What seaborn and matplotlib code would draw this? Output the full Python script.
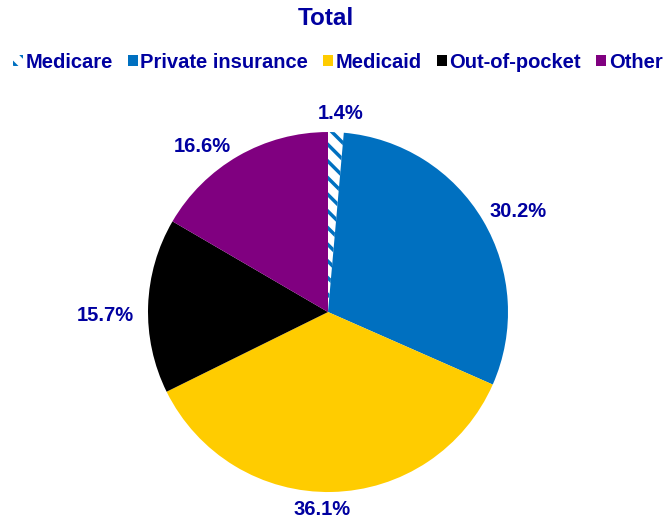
import numpy as np
import matplotlib
matplotlib.use("Agg")
import matplotlib.pyplot as plt
import seaborn as sns

categorias = ["Medicare", "Private insurance", "Medicaid", "Out-of-pocket", "Other"]
valores = [1.4, 30.2, 36.1, 15.7, 16.6]
colores = ["#FFFFFF", "#0070C0", "#FFCC00", "#000000", "#800080"]
texto = "#0000A0"

# ajuste de las etiquetas (grados respecto al centro del sector, radio relativo)
giro_etiqueta = [-1.2, -2.8, -3.0, 3.0, 7.2]
radio_etiqueta = [1.105, 1.193, 1.10, 1.239, 1.156]

sns.set_theme(style="white")
plt.rcParams["font.family"] = ["Liberation Sans", "DejaVu Sans"]
plt.rcParams["hatch.linewidth"] = 2.5

fig = plt.figure(figsize=(6.7, 5.2), dpi=100)
ax = fig.add_axes([0.2209, 0.0538, 0.5373, 0.6923])

wedges, _ = ax.pie(valores, colors=colores, startangle=90, counterclock=False,
                   radius=1, wedgeprops=dict(linewidth=0))
wedges[0].set_hatch("\\\\")
wedges[0].set_edgecolor("#0070C0")
ax.set_xlim(-1, 1)
ax.set_ylim(-1, 1)
ax.set_aspect("equal")

for w, v, g, r in zip(wedges, valores, giro_etiqueta, radio_etiqueta):
    ang = np.deg2rad((w.theta1 + w.theta2) / 2 + g)
    ax.text(r * np.cos(ang), r * np.sin(ang), f"{v:.1f}%", ha="center", va="center",
            fontsize=14.5, fontweight="bold", color=texto)

fig.text(0.486, 0.965, "Total", ha="center", va="center", fontsize=17.5,
         fontweight="bold", color=texto)

leg = fig.legend(wedges, categorias, loc="center", bbox_to_anchor=(0.504, 0.88), ncol=5,
                 frameon=False, handlelength=0.5, handleheight=0.5, handletextpad=0.12,
                 columnspacing=0.75, borderpad=0, borderaxespad=0,
                 prop=dict(size=14.5, weight="bold"))
for t in leg.get_texts():
    t.set_color(texto)

plt.savefig("out.png", dpi=100)
plt.close()
